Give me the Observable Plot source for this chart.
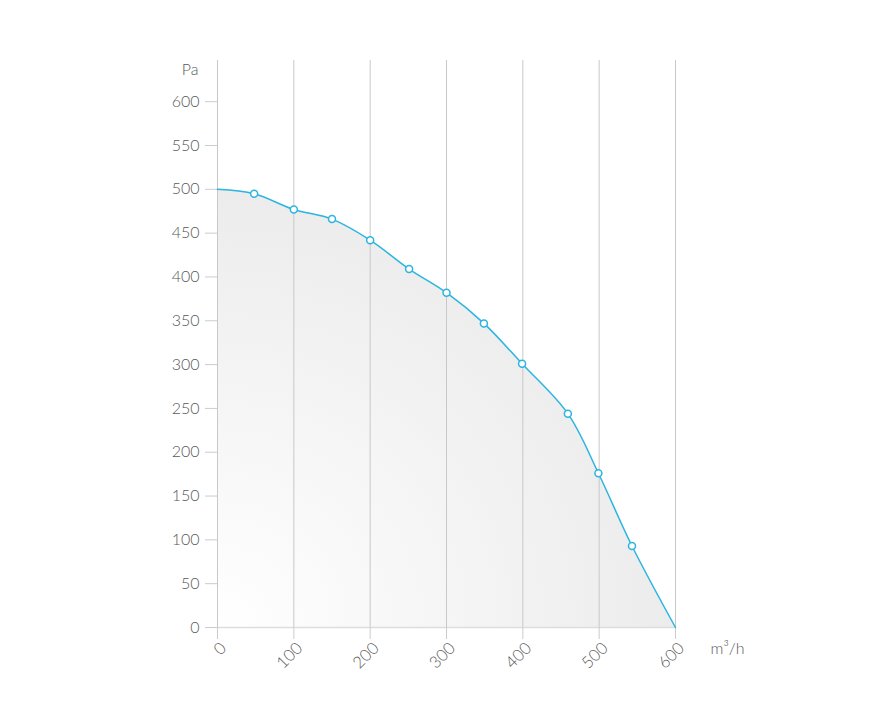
<!DOCTYPE html>
<html>
<head>
<meta charset="utf-8">
<script src="https://cdn.jsdelivr.net/npm/d3@7"></script>
<script src="https://cdn.jsdelivr.net/npm/@observablehq/plot@0.6"></script>
<style>
  html, body { margin: 0; padding: 0; background: #fff; }
  #chart svg { display: block; }
</style>
</head>
<body>
<div id="chart"></div>
<script>
const flow = [0, 48, 100, 150, 200, 251, 300, 349, 399, 459, 499, 543, 600];
const pressure = [500, 495, 477, 466, 442, 409, 382, 347, 301, 244, 176, 93, 0];
const markerIdx = [1, 2, 3, 4, 5, 6, 7, 8, 9, 10, 11];
const xTicks = [0, 100, 200, 300, 400, 500, 600];
const yTicks = [0, 50, 100, 150, 200, 250, 300, 350, 400, 450, 500, 550, 600];
const xUnit = "m³/h";
const yUnit = "Pa";

const data = flow.map((f, i) => ({ q: f, p: pressure[i] }));
const markers = markerIdx.map(i => data[i]);

const lineColor = "#2bb5df";
const textColor = "#595959";
const font = "Lato, 'Open Sans', sans-serif";

const gradientDefs = () => {
  const g = d3.create("svg:defs");
  const rg = g.append("radialGradient")
    .attr("id", "areaGrad")
    .attr("cx", "0").attr("cy", "1").attr("r", "1.05");
  rg.append("stop").attr("offset", "0%").attr("stop-color", "#ffffff");
  rg.append("stop").attr("offset", "100%").attr("stop-color", "#ebebeb");
  return g.node();
};

const chart = Plot.plot({
  width: 872,
  height: 717,
  marginLeft: 217,
  marginRight: 197,
  marginTop: 60,
  marginBottom: 90,
  style: { fontFamily: font, fontSize: "16px", color: textColor, background: "#fff" },
  x: { domain: [0, 600] },
  y: { domain: [0, 647] },
  marks: [
    gradientDefs,
    Plot.areaY(data, { x: "q", y: "p", curve: "catmull-rom", fill: "url(#areaGrad)" }),
    Plot.gridX(xTicks, { stroke: "#c8c8c8", strokeOpacity: 1, strokeWidth: 1 }),
    Plot.ruleY([0], { stroke: "#dddddd", strokeWidth: 1.5 }),
    Plot.axisY(yTicks, {
      tickSize: 12, tickPadding: 6, stroke: "#cccccc", label: null,
      fontWeight: 300, fill: textColor, fontSize: 16
    }),
    Plot.axisX(xTicks, { tickSize: 12, stroke: "#cccccc", text: null, label: null }),
    Plot.axisX(xTicks, {
      tickSize: 0, tickPadding: 16, tickRotate: -45, label: null,
      fontWeight: 300, fill: textColor, fontSize: 16.5, dx: 6, dy: 2
    }),
    Plot.line(data, { x: "q", y: "p", curve: "catmull-rom", stroke: lineColor, strokeWidth: 1.5 }),
    Plot.dot(markers, { x: "q", y: "p", r: 3.5, fill: "#fff", stroke: lineColor, strokeWidth: 1.5 }),
    Plot.text([yUnit], { frameAnchor: "top-left", dx: -19, dy: 3, textAnchor: "end", fontWeight: 300, fill: textColor, fontSize: 16 }),
    Plot.text([xUnit], { frameAnchor: "bottom-right", dx: 35, dy: 26, textAnchor: "start", fontWeight: 300, fill: textColor, fontSize: 16 })
  ]
});

document.getElementById("chart").appendChild(chart);
</script>
</body>
</html>
